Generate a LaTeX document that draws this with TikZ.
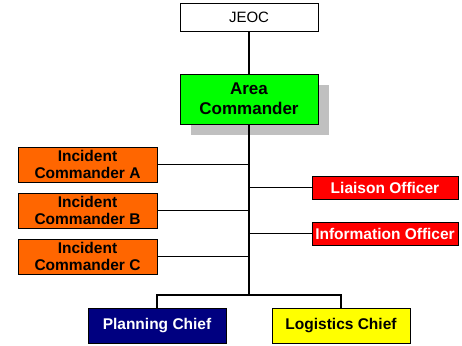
\documentclass[tikz,border=0pt]{standalone}
\usepackage{fontspec}
\setmainfont{Liberation Sans}
\usetikzlibrary{shadows}

\definecolor{icorange}{HTML}{FF6600}
\definecolor{acgreen}{HTML}{00FF00}
\definecolor{offred}{HTML}{FF0000}
\definecolor{plannavy}{HTML}{000080}
\definecolor{logyellow}{HTML}{FFFF00}
\definecolor{shadowgray}{HTML}{C0C0C0}

\tikzset{
  orgbox/.style={draw=black, line width=0.8pt, inner sep=0pt, align=center,
    font=\bfseries\fontsize{15.5}{17.5}\selectfont},
  link/.style={line width=1.1pt}
}

\begin{document}
\begin{tikzpicture}[x=1pt,y=-1pt]
		\useasboundingbox (0,0) rectangle (462,345);

		% Top
		\node[orgbox, font=\fontsize{15}{17}\selectfont, fill=white,
		  minimum width=138pt, minimum height=28pt] (jeoc) at (249,17) {JEOC};
		\node[orgbox, font=\bfseries\fontsize{17}{20}\selectfont, fill=acgreen,
		  minimum width=138pt, minimum height=50pt,
		  copy shadow={fill=shadowgray, draw=none, shadow xshift=11pt, shadow yshift=-11pt}]
		  (area) at (249,99) {Area\\Commander};

		% Incident commanders
		\node[orgbox, fill=icorange, minimum width=139pt, minimum height=35pt] (ica) at (87.5,164.5) {Incident\\Commander A};
		\node[orgbox, fill=icorange, minimum width=139pt, minimum height=35pt] (icb) at (87.5,210.5) {Incident\\Commander B};
		\node[orgbox, fill=icorange, minimum width=139pt, minimum height=35pt] (icc) at (87.5,256.5) {Incident\\Commander C};

		% Officers
		\node[orgbox, fill=offred, text=white, minimum width=146pt, minimum height=23pt] (liaison) at (385,187.5) {Liaison Officer};
		\node[orgbox, fill=offred, text=white, minimum width=146pt, minimum height=23pt] (info) at (385,233.5) {Information Officer};

		% Chiefs
		\node[orgbox, fill=plannavy, text=white, minimum width=138pt, minimum height=35pt] (plan) at (157,325.5) {Planning Chief};
		\node[orgbox, fill=logyellow, minimum width=138pt, minimum height=35pt] (logi) at (341,325.5) {Logistics Chief};

		% Lines
		\coordinate (fork) at (249,295);
		\draw[link] (jeoc) -- (area);
		\draw[link] (area.south) -- (fork);
		\draw[link] (ica.east) -- (ica.east -| area.south);
		\draw[link] (icb.east) -- (icb.east -| area.south);
		\draw[link] (icc.east) -- (icc.east -| area.south);
		\draw[link] (liaison.west) -- (liaison.west -| area.south);
		\draw[link] (info.west) -- (info.west -| area.south);
		\draw[link] (plan.north) |- (fork) -| (logi.north);
	\end{tikzpicture}
\end{document}
